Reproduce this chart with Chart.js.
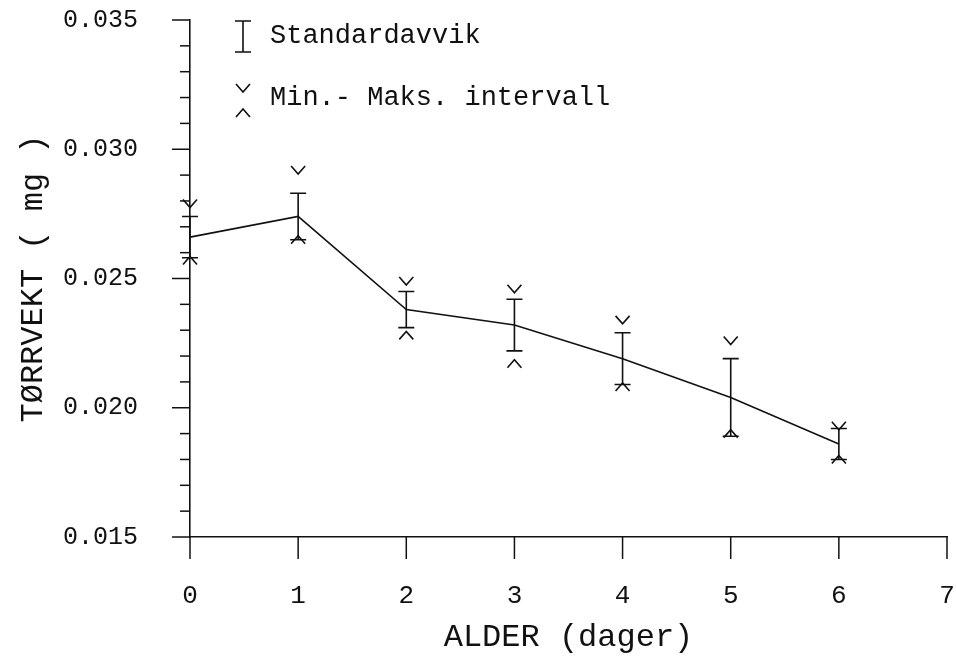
<!DOCTYPE html>
<html>
<head>
<meta charset="utf-8">
<script src="https://cdn.jsdelivr.net/npm/chart.js@4"></script>
<style>
  html, body { margin: 0; padding: 0; background: #fff; }
</style>
</head>
<body>
<canvas id="chart" width="956" height="657"></canvas>
<script>
// Data (dry weight per larva vs. age)
const days = [0, 1, 2, 3, 4, 5, 6];
const meanWeight = [0.0266, 0.0274, 0.0238, 0.0232, 0.0219, 0.0204, 0.0186];
const stdDev = [0.0008, 0.0009, 0.0007, 0.0010, 0.0010, 0.0015, 0.0006];
const minWeight = [0.0257, 0.0265, 0.0228, 0.0217, 0.0208, 0.0190, 0.0180];
const maxWeight = [0.0279, 0.0292, 0.0249, 0.0246, 0.0234, 0.0226, 0.0193];

const legendLabels = ['Standardavvik', 'Min.- Maks. intervall'];
const FONT = "'Liberation Mono', 'DejaVu Sans Mono', monospace";
const INK = '#111';

function chevron(ctx, px, py, up) {
  const w = 7, h = 4;
  const s = up ? 1 : -1;
  ctx.beginPath();
  ctx.moveTo(px - w, py + s * h);
  ctx.lineTo(px, py - s * h);
  ctx.lineTo(px + w, py + s * h);
  ctx.stroke();
}

function errorBar(ctx, px, top, bot) {
  ctx.beginPath();
  ctx.moveTo(px, top); ctx.lineTo(px, bot);
  ctx.moveTo(px - 8, top); ctx.lineTo(px + 8, top);
  ctx.moveTo(px - 8, bot); ctx.lineTo(px + 8, bot);
  ctx.stroke();
}

// no automatic label padding, the layout padding decides the plot area
function noPad(s) {
  s.paddingLeft = 0; s.paddingRight = 0;
  s.paddingTop = 0; s.paddingBottom = 0;
}

// axis tick marks (major longer than minor)
const tickMarks = {
  id: 'tickMarks',
  afterDraw(chart) {
    const { ctx, chartArea, scales: { x, y } } = chart;
    ctx.save();
    ctx.strokeStyle = INK;
    ctx.lineWidth = 1.5;
    y.ticks.forEach(t => {
      const py = y.getPixelForValue(t.value);
      const major = Math.round(t.value * 1000) % 5 === 0;
      const len = major ? 18 : 10;
      ctx.beginPath();
      ctx.moveTo(chartArea.left - len, py);
      ctx.lineTo(chartArea.left, py);
      ctx.stroke();
    });
    x.ticks.forEach(t => {
      const px = x.getPixelForValue(t.value);
      ctx.beginPath();
      ctx.moveTo(px, chartArea.bottom);
      ctx.lineTo(px, chartArea.bottom + 22);
      ctx.stroke();
    });
    ctx.restore();
  }
};

// standard deviation bars and min/max chevrons
const errorMarks = {
  id: 'errorMarks',
  afterDatasetsDraw(chart) {
    const { ctx, scales: { x, y } } = chart;
    ctx.save();
    ctx.strokeStyle = INK;
    ctx.lineWidth = 1.6;
    days.forEach((d, i) => {
      const px = x.getPixelForValue(d);
      errorBar(ctx, px,
        y.getPixelForValue(meanWeight[i] + stdDev[i]),
        y.getPixelForValue(meanWeight[i] - stdDev[i]));
      chevron(ctx, px, y.getPixelForValue(maxWeight[i]), false);
      chevron(ctx, px, y.getPixelForValue(minWeight[i]), true);
    });
    ctx.restore();
  }
};

// the legend in the upper left corner
const cornerLegend = {
  id: 'cornerLegend',
  afterDraw(chart) {
    const ctx = chart.ctx;
    ctx.save();
    ctx.strokeStyle = INK;
    ctx.fillStyle = INK;
    ctx.lineWidth = 1.6;
    errorBar(ctx, 243, 21, 52);
    chevron(ctx, 243, 88, false);
    chevron(ctx, 243, 113, true);
    ctx.font = '27px ' + FONT;
    ctx.textBaseline = 'middle';
    ctx.textAlign = 'left';
    ctx.fillText(legendLabels[0], 270, 36);
    ctx.fillText(legendLabels[1], 270, 98);
    ctx.restore();
  }
};

new Chart(document.getElementById('chart'), {
  type: 'line',
  data: {
    datasets: [{
      data: days.map((d, i) => ({ x: d, y: meanWeight[i] })),
      borderColor: INK,
      borderWidth: 1.6,
      pointRadius: 0,
      tension: 0,
      fill: false,
      clip: false
    }]
  },
  options: {
    responsive: false,
    animation: false,
    layout: { padding: { top: 20, right: 9, left: 0, bottom: 0 } },
    plugins: { legend: { display: false }, tooltip: { enabled: false } },
    scales: {
      x: {
        type: 'linear',
        min: 0,
        max: 7,
        afterFit: s => { s.height = 120; noPad(s); },
        grid: { display: false, drawTicks: false },
        border: { display: true, color: INK, width: 1.6 },
        ticks: {
          stepSize: 1,
          padding: 44,
          color: INK,
          font: { family: FONT, size: 26 }
        },
        title: {
          display: true,
          text: 'ALDER (dager)',
          color: INK,
          font: { family: FONT, size: 32 },
          padding: { top: 0, bottom: 0 }
        }
      },
      y: {
        type: 'linear',
        min: 0.015,
        max: 0.035,
        afterFit: s => { s.width = 190; noPad(s); },
        grid: { display: false, drawTicks: false },
        border: { display: true, color: INK, width: 1.6 },
        ticks: {
          stepSize: 0.001,
          autoSkip: false,
          padding: 52,
          color: INK,
          font: { family: FONT, size: 25 },
          callback: v => (Math.round(v * 1000) % 5 === 0 ? v.toFixed(3) : '')
        },
        title: {
          display: true,
          text: 'TØRRVEKT ( mg )',
          color: INK,
          font: { family: FONT, size: 32 },
          padding: { top: 14, bottom: 0 }
        }
      }
    }
  },
  plugins: [tickMarks, errorMarks, cornerLegend]
});
</script>
</body>
</html>
